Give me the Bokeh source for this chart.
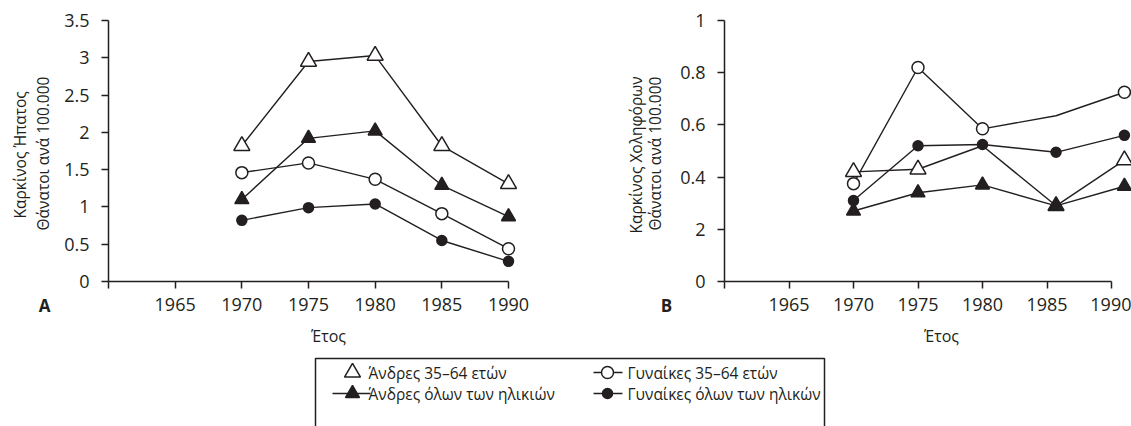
import math
from bokeh.plotting import figure
from bokeh.models import (Range1d, FixedTicker, CustomJSTickFormatter, Label,
                          ColumnDataSource, CDSView, BooleanFilter)
from bokeh.layouts import row, column
from bokeh.embed import file_html
from bokeh.resources import INLINE

FONT = "Open Sans"
INK = "#231f20"

# ---------------- data ----------------
SERIES_NAMES = ["Άνδρες 35–64 ετών", "Άνδρες όλων των ηλικιών",
                "Γυναίκες 35–64 ετών", "Γυναίκες όλων των ηλικών"]

# Panel A: liver cancer
YEARS_A = [1970, 1975, 1980, 1985, 1990]
A_MEN_35_64 = [1.82, 2.95, 3.03, 1.82, 1.31]
A_MEN_ALL = [1.10, 1.92, 2.02, 1.29, 0.87]
A_WOMEN_35_64 = [1.46, 1.59, 1.37, 0.91, 0.44]
A_WOMEN_ALL = [0.82, 0.99, 1.04, 0.55, 0.27]

# Panel B: biliary cancer
YEARS_B = [1970, 1975, 1980, 1985.7, 1991]
B_MEN_35_64 = [0.42, 0.43, 0.52, 0.29, 0.465]
B_MEN_35_64_MARK = [True, True, False, True, True]
B_MEN_ALL = [0.27, 0.34, 0.37, 0.29, 0.365]
B_WOMEN_35_64 = [0.375, 0.82, 0.585, 0.635, 0.725]
B_WOMEN_35_64_MARK = [True, True, True, False, True]
B_WOMEN_ALL = [0.31, 0.52, 0.525, 0.495, 0.56]

X_TICKS = [1960, 1965, 1970, 1975, 1980, 1985, 1990]
X_LABELS = ["", "1965", "1970", "1975", "1980", "1985", "1990"]
A_Y_TICKS = [0, 0.5, 1, 1.5, 2, 2.5, 3, 3.5]
A_Y_LABELS = ["0", "0.5", "1", "1.5", "2", "2.5", "3", "3.5"]
B_Y_TICKS = [0, 0.2, 0.4, 0.6, 0.8, 1]
B_Y_LABELS = ["0", "2", "0.4", "0.6", "0.8", "1"]

A_YTITLE = ["Καρκίνος Ήπατος", "Θάνατοι ανά 100.000"]
B_YTITLE = ["Καρκίνος  Χοληφόρων", "Θάνατοι ανά 100.000"]
X_TITLE = "Έτος"

# series styles: (marker, size, fill)
STYLE = [("triangle", 16, "white"), ("triangle", 14, INK),
         ("circle", 12, "white"), ("circle", 10, INK)]

TOP_H = 322


def fmt(tvals, tlabels):
    return CustomJSTickFormatter(args=dict(tv=tvals, tl=tlabels), code="""
        for (let i = 0; i < tv.length; i++) {
            if (Math.abs(tv[i] - tick) < 1e-6) { return tl[i]; }
        }
        return "";
    """)


def blank(width, height, x0, x1, y_top, y_bot):
    """A figure whose frame is the whole canvas, in page pixel coordinates."""
    p = figure(width=width, height=height, x_range=Range1d(x0, x1),
               y_range=Range1d(y_bot, y_top), output_backend="svg",
               toolbar_location=None, x_axis_type=None, y_axis_type=None,
               min_border=0, frame_align=False)
    p.outline_line_color = None
    p.grid.visible = False
    return p


def make_panel(width, bl, br, x_end, y_end, yt, yl):
    p = figure(width=width, height=TOP_H, x_range=Range1d(1960, x_end),
               y_range=Range1d(0, y_end), output_backend="svg",
               toolbar_location=None, min_border_left=bl, min_border_right=br,
               min_border_top=20, min_border_bottom=TOP_H - 281)
    p.outline_line_color = None
    p.grid.visible = False
    p.xaxis.ticker = FixedTicker(ticks=X_TICKS)
    p.xaxis.formatter = fmt(X_TICKS, X_LABELS)
    p.xaxis.bounds = (1960, 1990)
    p.yaxis.ticker = FixedTicker(ticks=yt)
    p.yaxis.formatter = fmt(yt, yl)
    p.yaxis.bounds = (0, y_end)
    for ax in (p.xaxis[0], p.yaxis[0]):
        ax.axis_line_color = INK
        ax.axis_line_width = 1.5
        ax.major_tick_line_color = INK
        ax.major_tick_line_width = 1.5
        ax.major_tick_out = 7
        ax.major_tick_in = 0
        ax.minor_tick_line_color = None
        ax.major_label_text_font = FONT
        ax.major_label_text_font_size = "18px"
        ax.major_label_text_color = INK
    p.xaxis[0].major_label_standoff = 9
    p.yaxis[0].major_label_standoff = 12
    return p


def draw_series(p, xs, series, masks):
    srcs = [ColumnDataSource(dict(x=xs, y=ys)) for ys in series]
    for s in srcs:
        p.line("x", "y", source=s, line_color=INK, line_width=1.4)
    # open markers first, filled markers on top
    for i in [0, 2, 1, 3]:
        m, sz, fill = STYLE[i]
        mask = masks[i]
        view = CDSView(filter=BooleanFilter(mask)) if mask else CDSView()
        p.scatter("x", "y", source=srcs[i], view=view, marker=m, size=sz,
                  fill_color=fill, line_color=INK, line_width=1.5)


def lbl(p, x, y, text, size="16px", angle=0.0, bold=False, align="center"):
    p.add_layout(Label(x=x, y=y, text=text, text_font=FONT, text_font_size=size,
                       text_color=INK, text_align=align, text_baseline="middle",
                       angle=angle, text_font_style="bold" if bold else "normal"))


# ---------------- left text column (A) ----------------
tA = blank(56, TOP_H, 0, 56, 0, TOP_H)
lbl(tA, 19, 218, A_YTITLE[0], size="15.5px", angle=math.pi / 2, align="left")
lbl(tA, 42, 230, A_YTITLE[1], size="15.5px", angle=math.pi / 2, align="left")
lbl(tA, 44, 305, "A", size="17px", bold=True)

# ---------------- panel A ----------------
pA = make_panel(544, 52, 72, 1991.5, 3.5, A_Y_TICKS, A_Y_LABELS)
draw_series(pA, YEARS_A, [A_MEN_35_64, A_MEN_ALL, A_WOMEN_35_64, A_WOMEN_ALL],
            [None, None, None, None])

# ---------------- text column (B) ----------------
tB = blank(76, TOP_H, 600, 676, 0, TOP_H)
lbl(tB, 635, 233, B_YTITLE[0], size="15.5px", angle=math.pi / 2, align="left")
lbl(tB, 654, 230, B_YTITLE[1], size="15.5px", angle=math.pi / 2, align="left")
lbl(tB, 666, 305, "B", size="17px", bold=True)

# ---------------- panel B ----------------
pB = make_panel(455, 48, 0, 1960 + 407 / 12.9, 1.0, B_Y_TICKS, B_Y_LABELS)
draw_series(pB, YEARS_B, [B_MEN_35_64, B_MEN_ALL, B_WOMEN_35_64, B_WOMEN_ALL],
            [B_MEN_35_64_MARK, None, B_WOMEN_35_64_MARK, None])

# ---------------- bottom strip: axis titles + legend ----------------
pL = blank(1131, 426 - TOP_H, 0, 1131, TOP_H, 426)
lbl(pL, 328, 335, X_TITLE)
lbl(pL, 941, 335, X_TITLE)
pL.quad(left=[315], right=[824], top=[358], bottom=[460], fill_color=None,
        line_color=INK, line_width=1.5)

LEG_COL_X = [(332, 352, 370, 368), (593, 607, 622, 627)]  # line x0, marker x, line x1, text x
LEG_ROW_Y = [372, 393]
LEG_POS = [(0, 0), (0, 1), (1, 0), (1, 1)]  # (col,row) per series
LEG_HAS_LINE = [False, True, True, True]
for i, name in enumerate(SERIES_NAMES):
    c, r = LEG_POS[i]
    x0, xm, x1, xt = LEG_COL_X[c]
    y = LEG_ROW_Y[r]
    m, sz, fill = STYLE[i]
    if LEG_HAS_LINE[i]:
        pL.segment(x0=[x0], y0=[y], x1=[x1], y1=[y], line_color=INK, line_width=1.5)
    pL.scatter(x=[xm], y=[y], marker=m, size=sz,
               fill_color=fill, line_color=INK, line_width=1.5)
    lbl(pL, xt, y, name, size="15.5px", align="left")

layout = column(row(tA, pA, tB, pB), pL)
open("out.html", "w").write(file_html(layout, INLINE))
